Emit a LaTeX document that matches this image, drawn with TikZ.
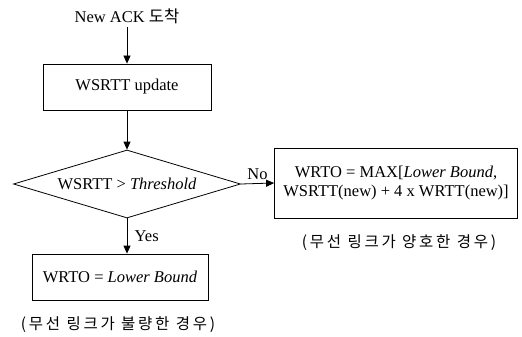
\documentclass[tikz,border=0pt]{standalone}
\usepackage{fontspec}
\setmainfont{Liberation Serif}
\newfontfamily\hangul{Noto Sans CJK KR}
\newfontfamily\hangulwide[LetterSpace=18]{Noto Sans CJK KR}
\usetikzlibrary{shapes.geometric,arrows.meta,positioning}

\tikzset{
  procbox/.style={draw, line width=0.8pt, inner sep=4pt, align=center,
    font=\fontsize{16.5}{19}\selectfont},
  decision/.style={draw, diamond, line width=0.8pt, inner sep=0pt,
    minimum width=227pt, minimum height=68pt, aspect=3.3,
    font=\fontsize{16.5}{19}\selectfont},
  flow/.style={-{Triangle[length=8pt,width=7pt]}, line width=0.8pt},
  remark/.style={font=\hangulwide\fontsize{15.5}{18}\selectfont},
  branch/.style={font=\fontsize{16.5}{19}\selectfont}
}

\begin{document}
\begin{tikzpicture}[x=1pt,y=-1pt]
\useasboundingbox (0,0) rectangle (522,337);

\node[branch] (ack) at (127,16) {New ACK {\hangul 도착}};
\node[procbox, minimum width=168pt, minimum height=46pt] (update) at (127,87) {WSRTT update};
\node[decision] (test) at (127,184) {WSRTT > \textit{Threshold}};
\node[procbox, minimum width=176pt, minimum height=46pt] (lower) at (120,277) {WRTO = \textit{Lower Bound}};
\node[procbox, minimum width=243pt, minimum height=70pt] (maxrto) at (396,183)
  {WRTO = MAX[\textit{Lower Bound},\\WSRTT(new) + 4 x WRTT(new)]};

% captions
\node[remark] (bad) at (118,325) {(무선 링크가 불량한 경우)};
\node[remark] (good) at (399,243) {(무선 링크가 양호한 경우)};

\draw[flow] (ack) -- (update);
\draw[flow] (update) -- (test.north);
\draw[flow] (test.south) -- (test.south |- lower.north)
  node[branch, midway, right, xshift=4pt] {Yes};
\draw[flow] (test.east) -- (maxrto.west)
  node[branch, midway, above] {No};
\end{tikzpicture}
\end{document}
